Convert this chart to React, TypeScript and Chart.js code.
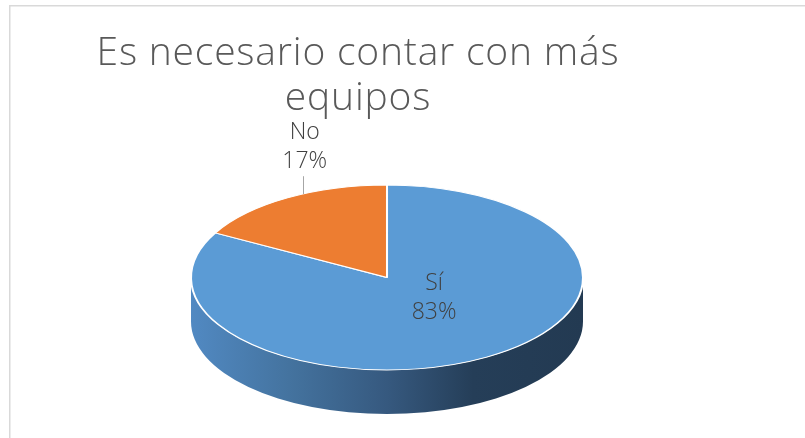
import React, { useEffect, useRef } from "react";
import { Chart, registerables } from "chart.js";

Chart.register(...registerables);

// ---- data ----
const categories = ["Sí", "No"];
const values = [83, 17];
const sliceColors = ["#5B9BD5", "#ED7D31"];
const titleLines = ["Es necesario contar con más", "equipos"];

// ---- layout / style constants ----
const W = 805;
const H = 438;
const PIE_R = 120;
const SX = 196 / PIE_R;
const SY = 92.5 / PIE_R;
const DEPTH = 44;
const FONT = "'Open Sans', 'Noto Sans', sans-serif";

// label anchors as fractions of ellipse radii from the pie centre
const labelAnchors = [
  { fx: 0.24, fy: 0.2, leader: false },
  { fx: -0.42, fy: -1.43, leader: true },
];

const pie3d = {
  id: "pie3d",
  beforeDraw(chart: any) {
    const ctx = chart.ctx;
    ctx.save();
    ctx.strokeStyle = "#d9d9d9";
    ctx.lineWidth = 1.5;
    ctx.strokeRect(9.75, 5.75, 3000, 3000);
    ctx.restore();
  },
  beforeDatasetsDraw(chart: any) {
    const ctx = chart.ctx;
    const arcs = chart.getDatasetMeta(0).data as any[];
    chart.$pieSaved = false;
    if (!arcs.length) return;
    const p0 = arcs[0].getProps(["x", "y", "outerRadius"], true);
    const cx = p0.x;
    const cy = p0.y;
    const rx = p0.outerRadius * SX;
    const ry = p0.outerRadius * SY;

    const gBlue = ctx.createLinearGradient(cx - rx, 0, cx + rx, 0);
    gBlue.addColorStop(0, "#5189c2");
    gBlue.addColorStop(0.25, "#44739f");
    gBlue.addColorStop(0.5, "#36597f");
    gBlue.addColorStop(0.72, "#253e58");
    gBlue.addColorStop(1, "#233a52");
    const gOrange = ctx.createLinearGradient(cx - rx, 0, cx + rx, 0);
    gOrange.addColorStop(0, "#c9652a");
    gOrange.addColorStop(1, "#7a3a14");
    const sideFills = [gBlue, gOrange];

    ctx.save();
    arcs.forEach((arc: any, i: number) => {
      const { startAngle, endAngle } = arc.getProps(["startAngle", "endAngle"], true);
      for (let k = -1; k <= 1; k++) {
        const lo = Math.max(startAngle, 2 * Math.PI * k);
        const hi = Math.min(endAngle, 2 * Math.PI * k + Math.PI);
        if (hi > lo) {
          ctx.beginPath();
          ctx.ellipse(cx, cy, rx, ry, 0, lo, hi);
          ctx.ellipse(cx, cy + DEPTH, rx, ry, 0, hi, lo, true);
          ctx.closePath();
          ctx.fillStyle = sideFills[i % sideFills.length];
          ctx.fill();
        }
      }
    });
    ctx.restore();

    ctx.save();
    ctx.translate(cx, cy);
    ctx.scale(SX, SY);
    ctx.translate(-cx, -cy);
    chart.$pieSaved = true;
  },
  afterDatasetsDraw(chart: any) {
    const ctx = chart.ctx;
    if (chart.$pieSaved) ctx.restore();
    chart.$pieSaved = false;
    const arcs = chart.getDatasetMeta(0).data as any[];
    if (!arcs.length) return;
    const p0 = arcs[0].getProps(["x", "y", "outerRadius"], true);
    const cx = p0.x;
    const cy = p0.y;
    const rx = p0.outerRadius * SX;
    const ry = p0.outerRadius * SY;
    const total = values.reduce((a, b) => a + b, 0);

    ctx.save();
    ctx.fillStyle = "#404040";
    ctx.font = `300 23px ${FONT}`;
    ctx.textAlign = "center";
    ctx.textBaseline = "alphabetic";
    arcs.forEach((_arc: any, i: number) => {
      const a = labelAnchors[i];
      const lx = cx + a.fx * rx;
      const ly = cy + a.fy * ry;
      const pct = Math.round((values[i] / total) * 100) + "%";
      ctx.fillText(categories[i], lx, ly - 6);
      ctx.fillText(pct, lx, ly + 23);
      if (a.leader) {
        const topY = cy - ry * Math.sqrt(Math.max(0, 1 - Math.pow((lx - 2 - cx) / rx, 2)));
        ctx.strokeStyle = "#a6a6a6";
        ctx.lineWidth = 1;
        ctx.beginPath();
        ctx.moveTo(Math.round(lx - 2) + 0.5, ly + 31);
        ctx.lineTo(Math.round(lx - 2) + 0.5, topY);
        ctx.stroke();
      }
    });
    ctx.restore();
  },
  afterDraw(chart: any) {
    const ctx = chart.ctx;
    ctx.save();
    ctx.fillStyle = "#595959";
    ctx.font = `300 39px ${FONT}`;
    try {
      (ctx as any).letterSpacing = "0.8px";
    } catch (e) {
      /* ignore */
    }
    ctx.textAlign = "center";
    ctx.textBaseline = "alphabetic";
    ctx.fillText(titleLines[0], 358, 65);
    ctx.fillText(titleLines[1], 358, 110);
    ctx.restore();
  },
};

export default function App() {
  const ref = useRef<HTMLCanvasElement | null>(null);
  useEffect(() => {
    document.body.style.margin = "0";
    const canvas = ref.current;
    if (!canvas) return;
    const chart = new Chart(canvas, {
      type: "pie",
      data: {
        labels: categories,
        datasets: [
          {
            data: values,
            backgroundColor: sliceColors,
            borderColor: "#ffffff",
            borderWidth: 1.25,
            clip: false as any,
          } as any,
        ],
      },
      options: {
        responsive: false,
        animation: false,
        events: [],
        radius: PIE_R,
        layout: {
          padding: { left: 267, right: 298, top: 157.5, bottom: 40.5 },
        },
        plugins: {
          legend: { display: false },
          title: { display: false },
          tooltip: { enabled: false },
        },
      } as any,
      plugins: [pie3d],
    });
    return () => chart.destroy();
  }, []);
  return (
    <div style={{ width: W, height: H, overflow: "hidden", background: "#ffffff" }}>
      <canvas ref={ref} width={W} height={H} style={{ display: "block" }} />
    </div>
  );
}
